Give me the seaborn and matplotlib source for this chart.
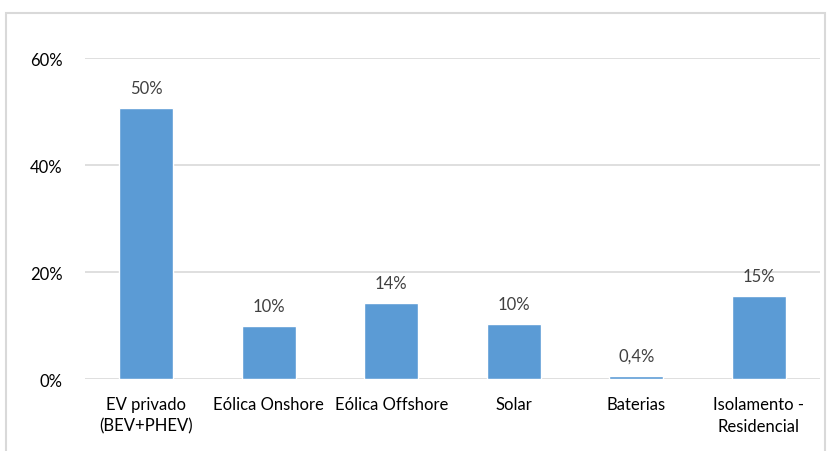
import numpy as np
import pandas as pd
import seaborn as sns
import matplotlib.pyplot as plt
from matplotlib.patches import Rectangle

categorias = ['EV privado\n(BEV+PHEV)', 'Eólica Onshore', 'Eólica Offshore',
              'Solar', 'Baterias', 'Isolamento -\nResidencial']
valores = [50.6, 9.9, 14.2, 10.3, 0.5, 15.5]
rotulos = ['50%', '10%', '14%', '10%', '0,4%', '15%']
y_ticks = [0, 20, 40, 60]

df = pd.DataFrame({'cat': categorias, 'val': valores})

sns.set_style('white')
plt.rcParams['font.family'] = ['Lato', 'DejaVu Sans']

fig = plt.figure(figsize=(8.31, 4.52), dpi=100)
ax = fig.add_axes([0.102, 0.159, 0.885, 0.71])

# moldura cinza do gráfico
fig.patches.append(Rectangle((6 / 831, -0.1), 819 / 831, 1.1 - 14 / 452,
                             transform=fig.transFigure, fill=False,
                             edgecolor='#d9d9d9', linewidth=1.5))

sns.barplot(data=df, x='cat', y='val', color='#5b9bd5', width=0.44,
            saturation=1, ax=ax, zorder=3)

for i, (v, r) in enumerate(zip(valores, rotulos)):
    ax.annotate(r, (i, v), xytext=(0, 9), textcoords='offset points',
                ha='center', va='bottom', fontsize=12, color='#404040')

ax.set_ylim(0, 60)
ax.set_yticks(y_ticks)
ax.set_yticklabels([f'{t}%' for t in y_ticks])
ax.yaxis.grid(True, color='#d9d9d9', linewidth=1.2, zorder=0)
ax.set_axisbelow(True)
for s in ax.spines.values():
    s.set_visible(False)
ax.set_xlabel('')
ax.set_ylabel('')
ax.tick_params(axis='both', length=0, labelsize=12, colors='#000000')
ax.tick_params(axis='y', pad=16)
ax.tick_params(axis='x', pad=12)
for lbl in ax.get_xticklabels():
    lbl.set_linespacing(1.45)

fig.savefig('out.png', dpi=100)
